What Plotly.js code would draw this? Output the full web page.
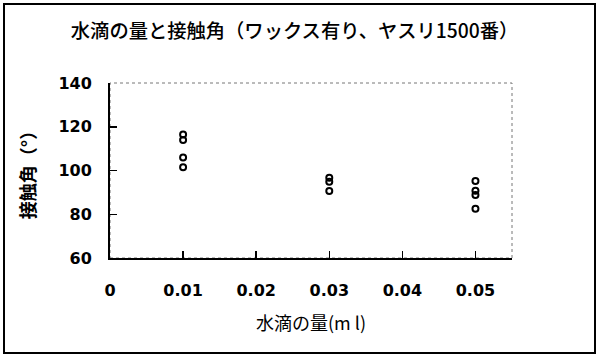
<!DOCTYPE html>
<html>
<head>
<meta charset="utf-8">
<script src="https://cdn.plot.ly/plotly-3.0.1.min.js"></script>
<style>
  html, body { margin: 0; padding: 0; background: #fff; }
  #wrap { position: relative; width: 600px; height: 359px; }
  #chart { position: absolute; left: 0; top: 0; width: 600px; height: 359px; }
  #frame { position: absolute; left: 3px; top: 3px; width: 589px; height: 347px;
           border: 2px solid #000; pointer-events: none; }
</style>
</head>
<body>
<div id="wrap">
  <div id="chart"></div>
  <div id="frame"></div>
</div>
<script>
// Data
const titleText = "水滴の量と接触角（ワックス有り、ヤスリ1500番）";
const xTitle = "水滴の量(m l)";
const yTitle = "接触角（°）";
const dropVolume = [0.01, 0.01, 0.01, 0.01,
                    0.03, 0.03, 0.03,
                    0.05, 0.05, 0.05, 0.05];
const contactAngle = [116.5, 114, 106, 101.5,
                      96.7, 94.9, 90.6,
                      95.2, 90.8, 88.8, 82.5];
const xTicks = [0, 0.01, 0.02, 0.03, 0.04, 0.05];
const xTickLabels = ["0", "0.01", "0.02", "0.03", "0.04", "0.05"];
const yTicks = [60, 80, 100, 120, 140];

const tickFont = { family: "DejaVu Sans", size: 16, color: "#000", weight: "bold" };

const trace = {
  type: "scatter",
  mode: "markers",
  x: dropVolume,
  y: contactAngle,
  marker: { symbol: "circle-open", size: 6, color: "#000", line: { width: 2, color: "#000" } },
  hoverinfo: "x+y"
};

const layout = {
  width: 600, height: 359,
  paper_bgcolor: "#fff", plot_bgcolor: "#fff",
  margin: { l: 110, r: 88, t: 83, b: 101 },
  showlegend: false,
  title: {
    text: titleText,
    font: { family: "Noto Sans CJK JP", size: 19.3, color: "#000", weight: 500 },
    xref: "container", yref: "container",
    x: 0.491, xanchor: "center", y: 1 - 31 / 359, yanchor: "middle"
  },
  xaxis: {
    range: [0, 0.055],
    tickmode: "array", tickvals: xTicks, ticktext: xTickLabels,
    ticks: "inside", ticklen: 7, tickwidth: 1.5, tickcolor: "#000",
    showline: true, linecolor: "#000", linewidth: 2,
    showgrid: false, zeroline: false,
    tickfont: tickFont, ticklabelstandoff: 17,
    title: { text: xTitle, font: { family: "Noto Sans CJK JP", size: 18, color: "#000" }, standoff: 18 }
  },
  yaxis: {
    range: [60, 140],
    tickmode: "array", tickvals: yTicks,
    ticks: "inside", ticklen: 7, tickwidth: 1.5, tickcolor: "#000",
    showline: true, linecolor: "#000", linewidth: 2,
    showgrid: false, zeroline: false,
    tickfont: tickFont, ticklabelstandoff: 13,
    title: { text: yTitle, font: { family: "Noto Sans CJK JP", size: 18, color: "#000", weight: "bold" }, standoff: 18 }
  },
  shapes: [{
    type: "rect", xref: "paper", yref: "paper", x0: 0, x1: 1, y0: 0, y1: 1,
    line: { color: "#777", width: 1, dash: "dot" }, layer: "below"
  }]
};

Plotly.newPlot("chart", [trace], layout, { displayModeBar: false, staticPlot: true });
</script>
</body>
</html>
